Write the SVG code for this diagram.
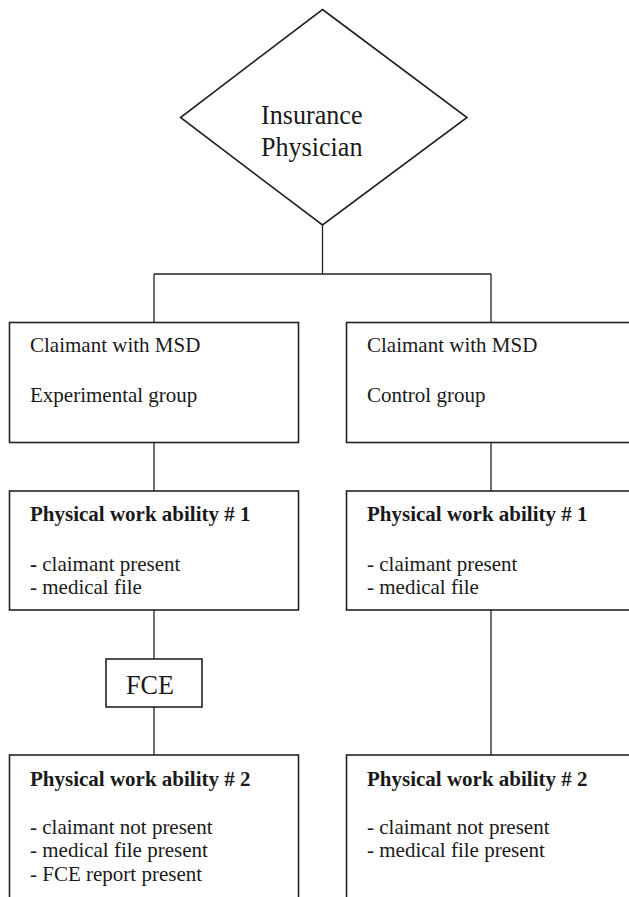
<svg xmlns="http://www.w3.org/2000/svg" width="629" height="897" viewBox="0 0 629 897">
<style>
.box{fill:#fff;stroke:#222;stroke-width:1.6}
.ln{fill:none;stroke:#222;stroke-width:1.3}
text{font-family:"Liberation Serif","Times New Roman",serif;fill:#1a1a1a;font-size:21px}
.b{font-weight:bold}
.big{font-size:27px}
</style>
<rect width="629" height="897" fill="#fff"/>
<g id="connectors">
<line class="ln" x1="322.5" y1="225" x2="322.5" y2="274"/>
<line class="ln" x1="154" y1="274" x2="491" y2="274"/>
<line class="ln" x1="154" y1="274" x2="154" y2="322"/>
<line class="ln" x1="491" y1="274" x2="491" y2="322"/>
<line class="ln" x1="154" y1="443" x2="154" y2="491"/>
<line class="ln" x1="491" y1="443" x2="491" y2="491"/>
<line class="ln" x1="154" y1="610" x2="154" y2="659"/>
<line class="ln" x1="154" y1="707" x2="154" y2="755"/>
<line class="ln" x1="491" y1="610" x2="491" y2="755"/>
</g>
<g id="insurance-physician">
<polygon class="box" points="322.5,9.5 467,117.5 322.5,225 180.5,117.5"/>
<text class="big" x="261" y="124.3" textLength="101.5" lengthAdjust="spacingAndGlyphs">Insurance</text>
<text class="big" x="261" y="155.7" textLength="101.5" lengthAdjust="spacingAndGlyphs">Physician</text>
</g>
<g id="experimental-group">
<rect class="box" x="9.5" y="322.5" width="289" height="120"/>
<text x="30" y="352">Claimant with MSD</text>
<text x="30" y="401.5">Experimental group</text>
</g>
<g id="control-group">
<rect class="box" x="346.5" y="322.5" width="300" height="120"/>
<text x="367" y="352">Claimant with MSD</text>
<text x="367" y="401.5">Control group</text>
</g>
<g id="exp-pwa1">
<rect class="box" x="9.5" y="491" width="289" height="119"/>
<text class="b" x="30" y="521">Physical work ability # 1</text>
<text x="30" y="570.7"><tspan class="b">-</tspan> claimant present</text>
<text x="30" y="594.3">- medical file</text>
</g>
<g id="ctrl-pwa1">
<rect class="box" x="346.5" y="491" width="300" height="119"/>
<text class="b" x="367" y="521">Physical work ability # 1</text>
<text x="367" y="570.7">- claimant present</text>
<text x="367" y="594.3">- medical file</text>
</g>
<g id="fce">
<rect class="box" x="106" y="659" width="96" height="48"/>
<text class="big" x="126" y="694" textLength="48" lengthAdjust="spacingAndGlyphs">FCE</text>
</g>
<g id="exp-pwa2">
<rect class="box" x="9.5" y="755" width="289" height="160"/>
<text class="b" x="30" y="786">Physical work ability # 2</text>
<text x="30" y="833.5">- claimant not present</text>
<text x="30" y="857">- medical file present</text>
<text x="30" y="880.5">- FCE report present</text>
</g>
<g id="ctrl-pwa2">
<rect class="box" x="346.5" y="755" width="300" height="160"/>
<text class="b" x="367" y="786">Physical work ability # 2</text>
<text x="367" y="833.5">- claimant not present</text>
<text x="367" y="857">- medical file present</text>
</g>
</svg>
